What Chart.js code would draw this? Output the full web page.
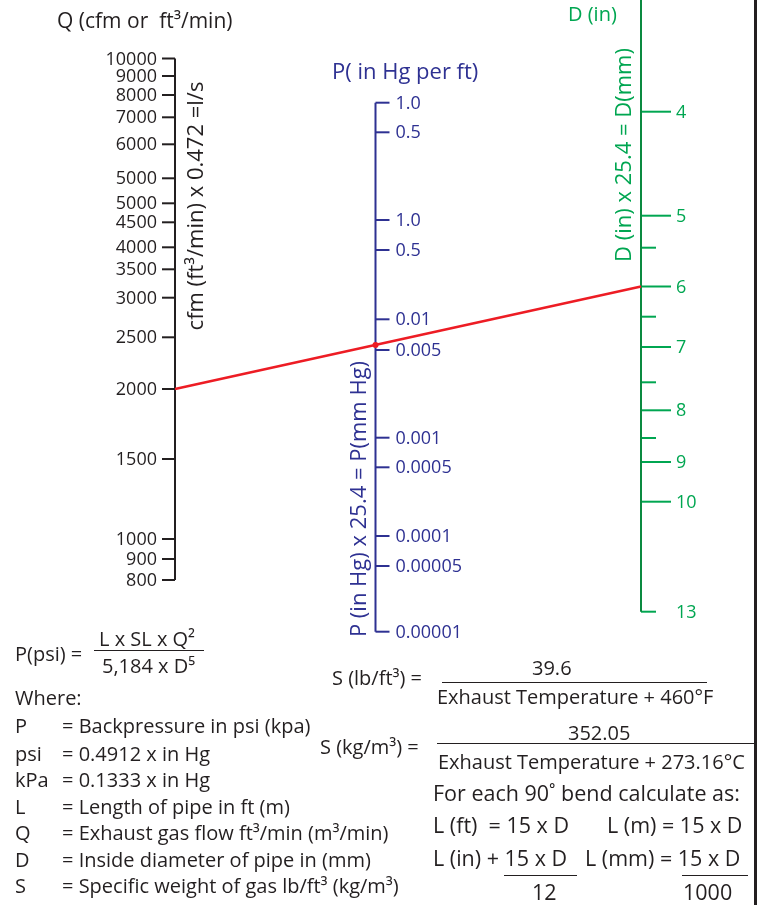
<!DOCTYPE html>
<html>
<head>
<meta charset="utf-8">
<script src="https://cdn.jsdelivr.net/npm/chart.js@4.4.1/dist/chart.umd.min.js"></script>
<style>
  html, body { margin: 0; padding: 0; background: #fff; }
  #wrap { position: relative; width: 759px; height: 905px; overflow: hidden; font-family: "Open Sans", sans-serif; color: #231f20; }
  #nomo { position: absolute; left: 0; top: 0; }
  .t { position: absolute; white-space: nowrap; line-height: 1; font-size: 20px; transform: translateY(-50%); }
  .big { font-size: 21.5px; }
  .bar { position: absolute; height: 0; border-top: 1.5px solid #231f20; }
  #edge { position: absolute; left: 754px; top: 0; width: 3px; height: 905px; background: #231f20; }
</style>
</head>
<body>
<div id="wrap">
  <canvas id="nomo" width="759" height="905"></canvas>
  <div id="formulas"></div>
  <div id="edge"></div>
</div>
<script>
// Q scale (cfm), positions
const qLabels = ['10000', '9000', '8000', '7000', '6000', '5000', '5000', '4500', '4000', '3500', '3000', '2500', '2000', '1500', '1000', '900', '800'];
const qTickY = [58.5, 76, 95, 117.3, 144.3, 178.3, 203.3, 222.3, 247.3, 269.3, 297.7, 337.3, 389, 459, 539, 559, 580];

// P scale (in Hg per ft)
const pLabels = ['1.0', '0.5', '1.0', '0.5', '0.01', '0.005', '0.001', '0.0005', '0.0001', '0.00005', '0.00001'];
const pTickY = [102.7, 132.3, 220, 250, 319.3, 350, 437.7, 467.3, 536, 566, 631.7];

// D scale (in)
const dLabels = ['4', '5', '6', '7', '8', '9', '10', '13'];
const dTickY = [111.7, 215.7, 286.5, 347, 410.3, 462, 501.7, 611.7];
const dMinorY = [247.7, 316.7, 382.3, 438];

// worked example: 2000 cfm through a 6 in pipe
const exampleQ = '2000';
const exampleD = '6';

const BLACK = '#231f20';
const BLUE = '#2e3192';
const GREEN = '#00a651';
const GREEN_DARK = '#0a8a40';
const RED = '#ed1c24';

// column of each scale on the page
const Q_X = 175;
const P_X = 375.5;
const D_X = 641;

function axisLine(x, y0, y1, color) {
    return {
        data: [{ x, y: y0 }, { x, y: y1 }],
        showLine: true,
        borderColor: color,
        borderWidth: 2,
        pointRadius: 0,
        clip: false
    };
}

function tickMarks(x, ys, len, color) {
    // pointStyle 'line' draws a horizontal dash centred on the point
    // negative len = tick pointing left
    const r = Math.abs(len) / 2;
    return {
        data: ys.map(y => ({ x: x + len / 2, y })),
        pointStyle: 'line',
        pointRadius: r,
        pointHoverRadius: r,
        pointBorderColor: color,
        pointBorderWidth: 2,
        clip: false
    };
}

const qStart = { x: Q_X, y: qTickY[qLabels.indexOf(exampleQ)] };
const dEnd = { x: D_X, y: dTickY[dLabels.indexOf(exampleD)] };
const pCross = {
    x: P_X,
    y: qStart.y + (P_X - qStart.x) / (dEnd.x - qStart.x) * (dEnd.y - qStart.y)
};

const nomoText = {
    id: 'nomoText',
    afterDraw(chart) {
        const { ctx } = chart;
        const px = v => chart.scales.x.getPixelForValue(v);
        const py = v => chart.scales.y.getPixelForValue(v);
        ctx.save();
        ctx.textBaseline = 'middle';

        // tick labels
        ctx.font = '18px "Open Sans"';
        ctx.fillStyle = BLACK;
        ctx.textAlign = 'right';
        qLabels.forEach((label, i) => ctx.fillText(label, px(Q_X - 18), py(qTickY[i]) + 1));

        ctx.textAlign = 'left';
        ctx.fillStyle = BLUE;
        pLabels.forEach((label, i) => ctx.fillText(label, px(P_X + 20), py(pTickY[i]) + 1));

        ctx.fillStyle = GREEN;
        dLabels.forEach((label, i) => ctx.fillText(label, px(D_X + 35), py(dTickY[i]) + 1));

        // scale titles
        ctx.font = '21px "Open Sans"';
        ctx.fillStyle = BLACK;
        ctx.fillText('Q (cfm or  ft³/min)', 57, 22);
        ctx.font = '22px "Open Sans"';
        ctx.fillStyle = BLUE;
        ctx.fillText('P( in Hg per ft)', 332, 73);
        ctx.font = '20px "Open Sans"';
        ctx.fillStyle = GREEN;
        ctx.fillText('D (in)', 568, 15);

        // conversions along the scales
        ctx.font = '22px "Open Sans"';
        ctx.textAlign = 'center';
        const rotated = [
            ['cfm (ft³/min) x 0.472 =l/s', 196, 206, BLACK],
            ['P (in Hg) x 25.4 = P(mm Hg)', 359, 499, BLUE],
            ['D (in) x 25.4 = D(mm)', 624, 155, GREEN]
        ];
        rotated.forEach(([text, cx, cy, color]) => {
            ctx.save();
            ctx.translate(cx, cy);
            ctx.rotate(-Math.PI / 2);
            ctx.fillStyle = color;
            ctx.fillText(text, 0, 1);
            ctx.restore();
        });
        ctx.restore();
    }
};

new Chart(document.getElementById('nomo'), {
    type: 'scatter',
    data: {
        datasets: [
            {
                data: [qStart, dEnd],
                showLine: true,
                borderColor: RED,
                borderWidth: 2.5,
                pointRadius: 0,
                clip: false
            },
            {
                data: [pCross],
                pointRadius: 3,
                pointBackgroundColor: RED,
                pointBorderWidth: 0,
                clip: false
            },
            axisLine(Q_X, qTickY[0], qTickY[qTickY.length - 1], BLACK),
            tickMarks(Q_X, qTickY, -13, BLACK),
            axisLine(P_X, pTickY[0], pTickY[pTickY.length - 1], BLUE),
            tickMarks(P_X, pTickY, 14, BLUE),
            axisLine(D_X, -2, dTickY[dTickY.length - 1], GREEN_DARK),
            tickMarks(D_X, dTickY.slice(0, -1), 30, GREEN),
            tickMarks(D_X, dMinorY.concat(dTickY.slice(-1)), 15, GREEN)
        ]
    },
    options: {
        responsive: false,
        animation: false,
        events: [],
        layout: { padding: 0, autoPadding: false },
        scales: {
            x: { type: 'linear', min: 0, max: 759, display: false },
            y: { type: 'linear', min: 0, max: 905, reverse: true, display: false }
        },
        plugins: {
            legend: { display: false },
            tooltip: { enabled: false }
        }
    },
    plugins: [nomoText]
});

document.getElementById('formulas').innerHTML = `
    <div class="t" style="left:15px;top:654px">P(psi) =</div>
    <div class="t" style="left:99px;top:639px">L x SL x Q²</div>
    <div class="bar" style="left:94px;top:650px;width:110px"></div>
    <div class="t" style="left:102px;top:666px">5,184 x D⁵</div>

    <div class="t" style="left:15px;top:698px">Where:</div>
    <div class="t" style="left:15px;top:726px">P</div>
    <div class="t" style="left:62px;top:726px">= Backpressure in psi (kpa)</div>
    <div class="t" style="left:15px;top:754px">psi</div>
    <div class="t" style="left:62px;top:754px">= 0.4912 x in Hg</div>
    <div class="t" style="left:15px;top:780px">kPa</div>
    <div class="t" style="left:62px;top:780px">= 0.1333 x in Hg</div>
    <div class="t" style="left:15px;top:807px">L</div>
    <div class="t" style="left:62px;top:807px">= Length of pipe in ft (m)</div>
    <div class="t" style="left:15px;top:833px">Q</div>
    <div class="t" style="left:62px;top:833px">= Exhaust gas flow ft³/min (m³/min)</div>
    <div class="t" style="left:15px;top:860px">D</div>
    <div class="t" style="left:62px;top:860px">= Inside diameter of pipe in (mm)</div>
    <div class="t" style="left:15px;top:886px">S</div>
    <div class="t" style="left:62px;top:886px">= Specific weight of gas lb/ft³ (kg/m³)</div>

    <div class="t" style="left:332px;top:678px">S (lb/ft³) =</div>
    <div class="t" style="left:532px;top:668px">39.6</div>
    <div class="bar" style="left:442px;top:682px;width:265px"></div>
    <div class="t" style="left:437px;top:697px">Exhaust Temperature + 460°F</div>

    <div class="t" style="left:320px;top:747px">S (kg/m³) =</div>
    <div class="t" style="left:568px;top:733px">352.05</div>
    <div class="bar" style="left:437px;top:743px;width:320px;border-top-width:1px"></div>
    <div class="t" style="left:438px;top:762px">Exhaust Temperature + 273.16°C</div>

    <div class="t big" style="left:433px;top:793px">For each 90˚ bend calculate as:</div>
    <div class="t big" style="left:433px;top:825px">L (ft)&nbsp; = 15 x D</div>
    <div class="t big" style="left:607px;top:825px">L (m) = 15 x D</div>
    <div class="t big" style="left:433px;top:858px">L (in) + 15 x D</div>
    <div class="t big" style="left:585px;top:858px">L (mm) = 15 x D</div>
    <div class="bar" style="left:504px;top:875px;width:73px"></div>
    <div class="bar" style="left:682px;top:875px;width:66px"></div>
    <div class="t big" style="left:532px;top:892px">12</div>
    <div class="t big" style="left:683px;top:892px">1000</div>
`;
</script>
</body>
</html>
